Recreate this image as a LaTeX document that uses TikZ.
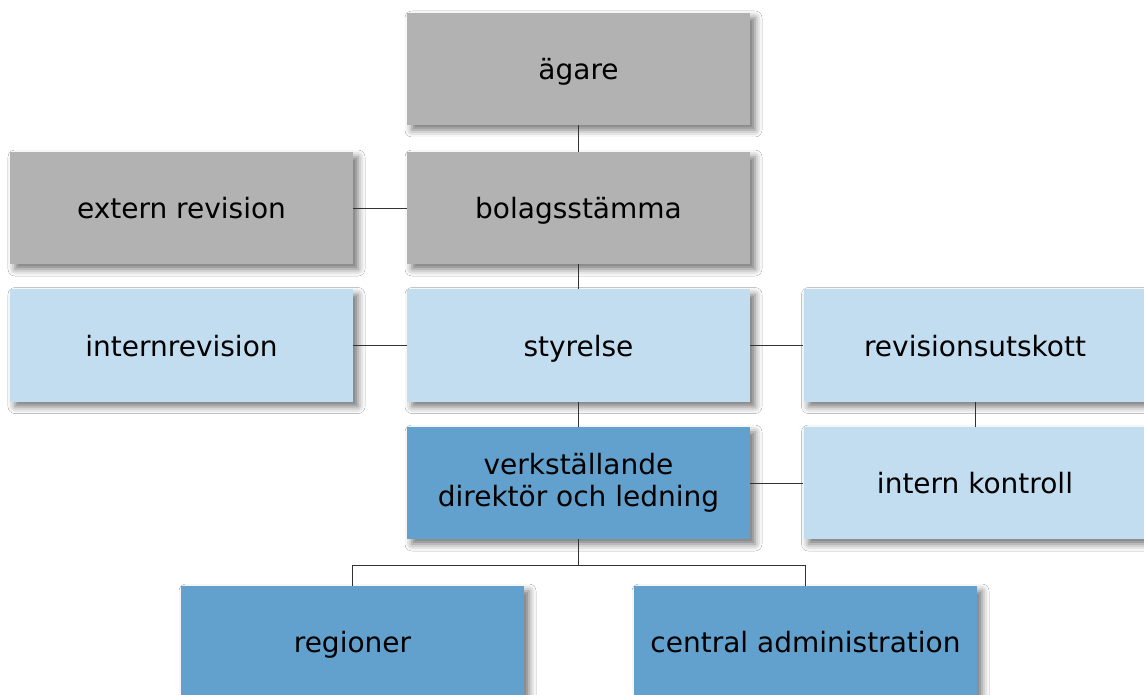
\documentclass[tikz,border=0pt]{standalone}
\usepackage{fontspec}
\setmainfont{DejaVu Sans}
\usetikzlibrary{shadows.blur}
\definecolor{boxgray}{RGB}{178,178,178}
\definecolor{lightblue}{RGB}{194,221,240}
\definecolor{midblue}{RGB}{98,161,205}
\begin{document}
\begin{tikzpicture}[x=1pt,y=-1pt,
  orgbox/.style={rectangle, minimum width=343pt, minimum height=112pt, inner sep=0pt,
    align=center, font=\fontsize{28}{32}\selectfont, text=black,
    text height=21pt, text depth=0pt,
    blur shadow={shadow xshift=5pt, shadow yshift=-5pt, shadow blur radius=7pt,
      shadow blur extra rounding=0pt, shadow opacity=55}},
  graybox/.style={orgbox, fill=boxgray},
  lightbox/.style={orgbox, fill=lightblue},
  bluebox/.style={orgbox, fill=midblue},
  conn/.style={draw=black!80, line width=0.9pt}]
\useasboundingbox (0,0) rectangle (1144,695);
\fill[white] (0,0) rectangle (1144,695);
\node[graybox] (agare) at (578.5,69) {ägare};
\node[graybox] (extern) at (181.5,208) {extern revision};
\node[graybox] (bolag) at (578.5,208) {bolagsstämma};
\node[lightbox] (internrev) at (181.5,345.5) {internrevision};
\node[lightbox] (styrelse) at (578.5,345.5) {styrelse};
\node[lightbox] (revutsk) at (975,345.5) {revisionsutskott};
\node[bluebox, text height=, text depth=, inner ysep=2pt] (vd) at (578.5,483) {verkställande\\direktör och ledning};
\node[lightbox] (intkontroll) at (975,483) {intern kontroll};
\node[bluebox] (regioner) at (352.5,642) {regioner};
\node[bluebox] (central) at (805.5,642) {central administration};
\coordinate (split) at (578.5,565);
\draw[conn] (agare.south) -- (bolag.north);
\draw[conn] (extern.east) -- (bolag.west);
\draw[conn] (bolag.south) -- (styrelse.north);
\draw[conn] (internrev.east) -- (styrelse.west);
\draw[conn] (styrelse.east) -- (revutsk.west);
\draw[conn] (revutsk.south) -- (intkontroll.north);
\draw[conn] (styrelse.south) -- (vd.north);
\draw[conn] (vd.east) -- (intkontroll.west);
\draw[conn] (vd.south) -- (split);
\draw[conn] (split) -| (regioner.north);
\draw[conn] (split) -| (central.north);
\end{tikzpicture}
\end{document}
